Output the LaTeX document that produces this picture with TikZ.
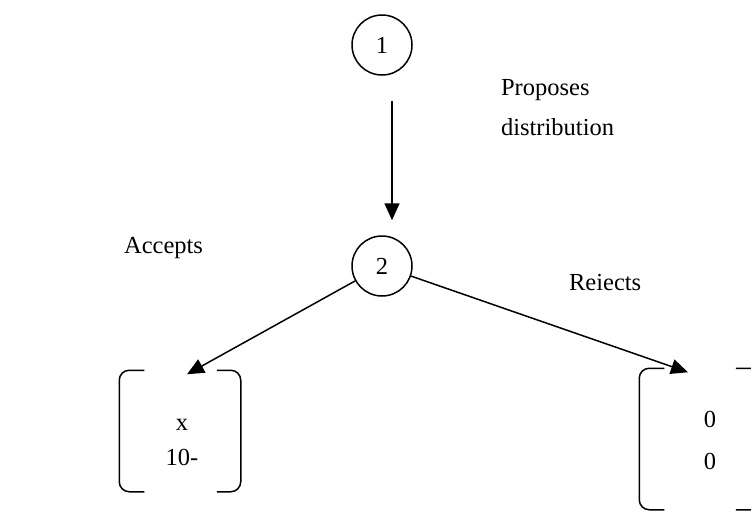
\documentclass[tikz,border=0pt]{standalone}
\usepackage{fontspec}
\setmainfont{Liberation Serif}
\usetikzlibrary{arrows.meta}

\begin{document}
\begin{tikzpicture}[x=1pt,y=-1pt,
  line width=1.5pt,
  main node/.style={circle,draw,minimum size=60pt,inner sep=0pt,font=\fontsize{24.5}{28}\selectfont},
  pay box/.style={rectangle,inner sep=0pt},
  pay text/.style={align=center,inner sep=0pt},
  lbl/.style={align=left,font=\fontsize{24.5}{40}\selectfont},
  move/.style={-{Triangle[length=17pt,width=15pt]}}]

  \useasboundingbox (0,0) rectangle (751,512);

  \node[main node] (1) at (382,45) {1};
  \node[main node] (2) at (382,266) {2};

  \node[pay box,minimum width=120pt,minimum height=120pt] (x) at (180,431) {};
  \node[pay box,minimum width=140pt,minimum height=140pt] (0) at (710,439) {};
  \node[pay text,font=\fontsize{24.5}{35}\selectfont] (xv) at (182,442) {x\\10-};
  \node[pay text,font=\fontsize{24.5}{42}\selectfont] (0v) at (710,440) {0\\0};

  \node[lbl,anchor=west] (prop) at (497,108) {Proposes\\distribution};
  \node[lbl,anchor=west] (acc) at (120,248) {Accepts};
  \node[lbl,anchor=west] (rej) at (565,282) {Reiects};

  % moves
  \path[move]
   ([xshift=10pt,yshift=-25pt]1.south) edge ([xshift=10pt,yshift=15pt]2.north)
   (2) edge ([xshift=7pt,yshift=-4pt]x.north)
   (2) edge ([xshift=-22pt,yshift=-4pt]0.north);

  % payoff brackets
  \begin{scope}[rounded corners=10pt]
  \draw ([xshift=25pt]x.north west) -- (x.north west) -- (x.south west) -- ([xshift=25pt]x.south west);
  \draw ([xshift=-24pt]x.north east) -- (x.north east) -- (x.south east) -- ([xshift=-24pt]x.south east);
  \draw ([xshift=25pt]0.north west) -- (0.north west) -- (0.south west) -- ([xshift=25pt]0.south west);
  \draw ([xshift=-45pt]0.north east) -- (0.north east) -- (0.south east) -- ([xshift=-45pt]0.south east);
  \end{scope}
\end{tikzpicture}
\end{document}
